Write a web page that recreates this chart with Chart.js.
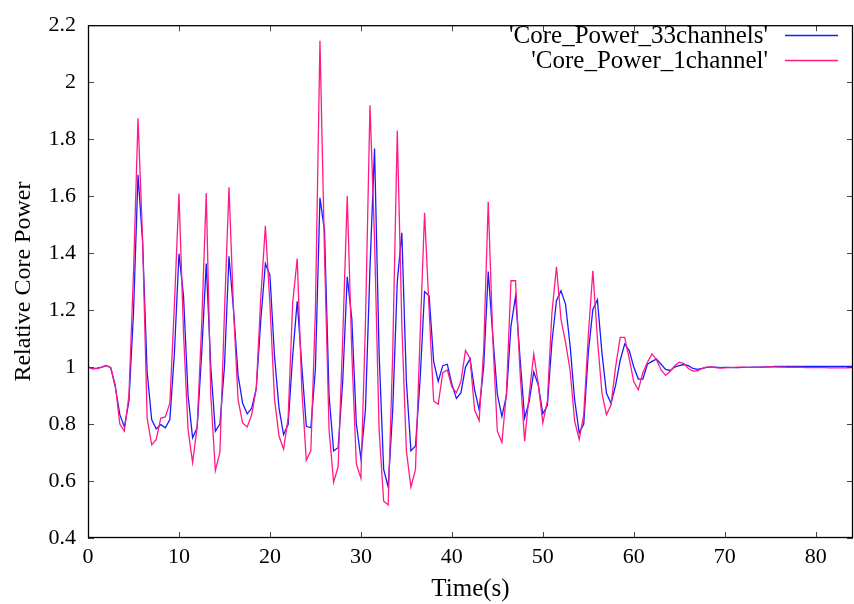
<!DOCTYPE html>
<html>
<head>
<meta charset="utf-8">
<script src="https://cdn.jsdelivr.net/npm/chart.js@4/dist/chart.umd.min.js"></script>
<style>
html,body{margin:0;padding:0;background:#fff;}
#wrap{width:854px;height:604px;}
</style>
</head>
<body>
<div id="wrap"><canvas id="c" width="854" height="604"></canvas></div>
<script>
const timeSeconds = [
 0,0.5,1,1.5,2,2.5,3,3.5,4,4.5, 5,5.5,6,6.5,7,7.5,8,8.5,9,9.5,
 10,10.5,11,11.5,12,12.5,13,13.5,14,14.5, 15,15.5,16,16.5,17,17.5,18,18.5,19,19.5,
 20,20.5,21,21.5,22,22.5,23,23.5,24,24.5, 25,25.5,26,26.5,27,27.5,28,28.5,29,29.5,
 30,30.5,31,31.5,32,32.5,33,33.5,34,34.5, 35,35.5,36,36.5,37,37.5,38,38.5,39,39.5,
 40,40.5,41,41.5,42,42.5,43,43.5,44,44.5, 45,45.5,46,46.5,47,47.5,48,48.5,49,49.5,
 50,50.5,51,51.5,52,52.5,53,53.5,54,54.5, 55,55.5,56,56.5,57,57.5,58,58.5,59,59.5,
 60,60.5,61,61.5,62,62.5,63,63.5,64,64.5, 65,65.5,66,66.5,67,67.5,68,68.5,69,69.5,
 70,70.5,71,71.5,72,72.5,73,73.5,74,74.5, 75,75.5,76,76.5,77,77.5,78,78.5,79,79.5,
 80,80.5,81,81.5,82,82.5,83,83.5,84
];

const power33channels = [
 1.000,0.995,0.996,1.000,1.006,0.998,0.930,0.833,0.790,0.880,
 1.190,1.675,1.440,0.983,0.816,0.783,0.798,0.787,0.816,1.050,
 1.398,1.250,0.900,0.752,0.787,1.050,1.363,1.000,0.775,0.800,
 1.000,1.389,1.200,0.971,0.873,0.836,0.856,0.925,1.167,1.363,
 1.323,1.040,0.856,0.763,0.798,1.040,1.231,1.006,0.792,0.787,
 0.994,1.594,1.479,0.900,0.706,0.717,0.950,1.317,1.170,0.800,
 0.680,0.850,1.350,1.767,1.050,0.642,0.579,0.850,1.300,1.471,
 0.950,0.706,0.723,0.950,1.265,1.250,1.020,0.950,1.005,1.010,
 0.940,0.890,0.910,1.000,1.029,0.920,0.850,1.000,1.335,1.110,
 0.905,0.827,0.900,1.144,1.248,1.030,0.821,0.879,0.983,0.937,
 0.836,0.865,1.087,1.233,1.268,1.220,1.075,0.885,0.769,0.800,
 1.050,1.202,1.236,1.050,0.908,0.873,0.936,1.023,1.081,1.058,
 1.000,0.958,0.958,1.010,1.020,1.028,1.010,0.992,0.988,1.000,
 1.005,1.009,1.005,0.995,0.992,0.995,0.999,1.000,1.000,0.998,
 0.999,0.999,0.998,0.998,0.999,0.999,1.000,1.000,1.000,1.001,
 1.001,1.002,1.002,1.002,1.002,1.002,1.002,1.002,1.002,1.002,
 1.002,1.002,1.002,1.002,1.002,1.002,1.002,1.002,1.002
];

const power1channel = [
 1.000,0.994,0.995,0.999,1.005,0.998,0.937,0.800,0.775,0.900,
 1.330,1.873,1.450,0.821,0.727,0.746,0.821,0.825,0.873,1.220,
 1.609,1.120,0.780,0.665,0.790,1.150,1.611,0.900,0.637,0.700,
 1.190,1.631,1.200,0.885,0.804,0.790,0.833,0.925,1.248,1.496,
 1.220,0.890,0.758,0.712,0.821,1.225,1.381,0.925,0.673,0.707,
 1.200,2.145,1.400,0.780,0.596,0.650,1.100,1.600,1.050,0.660,
 0.610,1.150,1.919,1.450,0.780,0.530,0.516,1.050,1.830,1.150,
 0.706,0.579,0.640,1.100,1.542,1.200,0.880,0.870,0.980,0.990,
 0.930,0.910,0.950,1.058,1.030,0.850,0.812,1.060,1.580,1.100,
 0.775,0.735,0.910,1.303,1.303,0.980,0.740,0.902,1.046,0.940,
 0.804,0.880,1.190,1.352,1.167,1.087,0.988,0.810,0.746,0.833,
 1.110,1.338,1.100,0.908,0.833,0.867,1.000,1.104,1.104,1.030,
 0.948,0.920,0.980,1.017,1.046,1.025,0.990,0.971,0.985,1.005,
 1.017,1.012,0.995,0.986,0.987,0.995,1.000,1.001,0.998,0.996,
 0.997,0.998,0.999,1.000,1.000,0.999,0.999,0.999,1.000,1.000,
 1.001,1.001,1.000,1.000,0.999,0.999,0.999,0.999,0.998,0.998,
 0.998,0.998,0.998,0.997,0.997,0.997,0.997,0.997,0.998
];

const seriesLabels = ["'Core_Power_33channels'", "'Core_Power_1channel'"];
const xTickLabels = ['0','10','20','30','40','50','60','70','80'];
const yTickLabels = ['0.4','0.6','0.8','1','1.2','1.4','1.6','1.8','2','2.2'];
const xAxisTitle = 'Time(s)';
const yAxisTitle = 'Relative Core Power';

const FONT = '"Liberation Serif", "Times New Roman", serif';
const BLUE = '#1a1aff';
const PINK = '#ff1a86';

function toXY(xs, ys){ return xs.map((x,i)=>({x:x, y:ys[i]})); }

const framePlugin = {
  id: 'frame',
  afterDraw(chart){
    const ctx = chart.ctx, a = chart.chartArea;
    const xs = chart.scales.x, ys = chart.scales.y;
    ctx.save();
    ctx.lineWidth = 1;
    ctx.strokeStyle = '#444';
    const tl = 6;
    ctx.beginPath();
    xs.ticks.forEach(t=>{
      const px = Math.round(xs.getPixelForValue(t.value)) + 0.5;
      ctx.moveTo(px, a.bottom); ctx.lineTo(px, a.bottom - tl);
      ctx.moveTo(px, a.top); ctx.lineTo(px, a.top + tl);
    });
    ys.ticks.forEach(t=>{
      const py = Math.round(ys.getPixelForValue(t.value)) + 0.5;
      ctx.moveTo(a.left, py); ctx.lineTo(a.left + tl, py);
      ctx.moveTo(a.right, py); ctx.lineTo(a.right - tl, py);
    });
    ctx.stroke();
    ctx.strokeStyle = '#000';
    ctx.lineWidth = 1.3;
    ctx.strokeRect(a.left + 0.5, a.top + 0.5, a.right - a.left - 1, a.bottom - a.top - 1);
    // legend (gnuplot style: text right-aligned, sample line to the right)
    ctx.font = '25px ' + FONT;
    ctx.textAlign = 'right';
    ctx.textBaseline = 'middle';
    ctx.fillStyle = '#000';
    const ds = chart.data.datasets;
    const rows = [35, 60];
    ds.forEach((d, i)=>{
      const y = rows[i];
      ctx.fillText(d.label, 768, y + 1);
      ctx.beginPath();
      ctx.strokeStyle = d.borderColor;
      ctx.lineWidth = 1.3;
      ctx.moveTo(785, y + 0.5); ctx.lineTo(838, y + 0.5);
      ctx.stroke();
    });
    ctx.restore();
  }
};

new Chart(document.getElementById('c'), {
  type: 'line',
  data: {
    datasets: [
      { label: seriesLabels[0], data: toXY(timeSeconds, power33channels), borderColor: BLUE, borderWidth: 1.3, pointRadius: 0, tension: 0, order: 2 },
      { label: seriesLabels[1], data: toXY(timeSeconds, power1channel), borderColor: PINK, borderWidth: 1.3, pointRadius: 0, tension: 0, order: 1 }
    ]
  },
  options: {
    responsive: false,
    animation: false,
    events: [],
    layout: { padding: { top: 18, right: 1, left: 0, bottom: 0 } },
    plugins: { legend: { display: false }, tooltip: { enabled: false } },
    scales: {
      x: {
        type: 'linear',
        min: 0, max: 84.1,
        grid: { display: false, drawTicks: false },
        border: { display: false },
        ticks: {
          stepSize: 10, includeBounds: false, autoSkip: false, maxRotation: 0,
          padding: 6, color: '#000',
          font: { family: FONT, size: 22 },
          callback: (v, i) => xTickLabels[i]
        },
        title: { display: true, text: xAxisTitle, color: '#000', font: { family: FONT, size: 25 }, padding: { top: 0, bottom: 0 } },
        afterFit(s){ s.height = 66; }
      },
      y: {
        type: 'linear',
        min: 0.4, max: 2.2,
        grid: { display: false, drawTicks: false },
        border: { display: false },
        ticks: {
          stepSize: 0.2, autoSkip: false, padding: 12, color: '#000',
          font: { family: FONT, size: 22 },
          callback: (v, i) => yTickLabels[i]
        },
        title: { display: true, text: yAxisTitle, color: '#000', font: { family: FONT, size: 24 }, padding: { top: 9, bottom: 0 } },
        afterFit(s){ s.width = 88; }
      }
    }
  },
  plugins: [framePlugin]
});
</script>
</body>
</html>
